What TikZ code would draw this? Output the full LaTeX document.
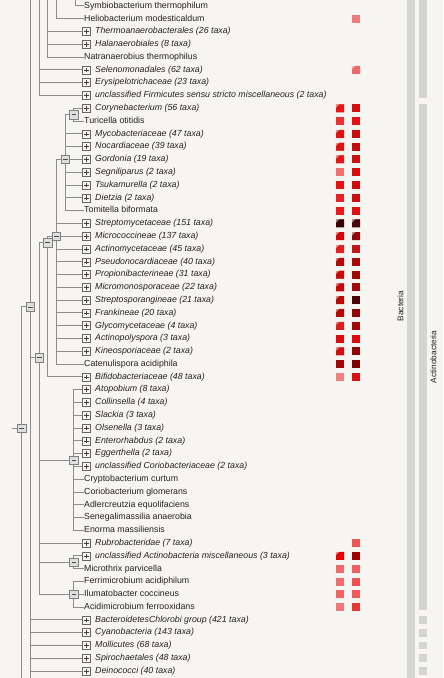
\documentclass[tikz,border=0pt]{standalone}
\usepackage{fontspec}
\setmainfont{Liberation Sans}
\pgfdeclarelayer{back}
\pgfdeclarelayer{bg}
\pgfsetlayers{back,bg,main}
\definecolor{paper}{HTML}{F7F5F1}
\definecolor{linec}{HTML}{8C8C8C}
\definecolor{txt}{HTML}{222222}
\definecolor{barc}{HTML}{D4D4D4}
\definecolor{minusfill}{HTML}{DEDEDE}
\tikzset{
  edge/.style={draw=linec, line width=1pt},
  lbl/.style={anchor=west, inner sep=0pt, text=txt, font=\fontsize{8.8}{10}\selectfont, text height=6.4pt, text depth=1.9pt},
  clade/.style={lbl, font=\fontsize{8.8}{10}\selectfont\itshape},
  plusbox/.style={draw=black!60, fill=paper, line width=0.6pt, minimum size=8pt, inner sep=0pt,
    path picture={\draw[black!75, line width=0.6pt]
      ([xshift=-2.4pt]path picture bounding box.center) -- ([xshift=2.4pt]path picture bounding box.center)
      ([yshift=-2.4pt]path picture bounding box.center) -- ([yshift=2.4pt]path picture bounding box.center);}},
  minusbox/.style={draw=black!50, fill=minusfill, line width=0.6pt, minimum size=8.5pt, inner sep=0pt,
    path picture={\draw[black!70, line width=0.6pt]
      ([xshift=-2.4pt]path picture bounding box.center) -- ([xshift=2.4pt]path picture bounding box.center);}},
  sidelbl/.style={rotate=90, inner sep=0pt, text=txt, font=\fontsize{8.3}{10}\selectfont}
}
\newcommand\leafcl[2]{\node[plusbox] (b#1) at (86.7,#1) {};\node[clade] (t#1) at (95,#1) {#2};}
\newcommand\leafsp[2]{\node[lbl] (b#1) at (84,#1) {#2};}
\newcommand\hmsq[3]{\definecolor{tmpc}{HTML}{#3}\fill[tmpc] (#2-4,#1-0.3127) rectangle (#2+4,#1+0.3127);}
\newcommand\hmcut[3]{\definecolor{tmpc}{HTML}{#3}\fill[tmpc!45!paper] (#2-4,#1-0.3127) rectangle (#2+4,#1+0.3127);
  \fill[tmpc] (#2-0.6,#1-0.3127) -- (#2+4,#1-0.3127) -- (#2+4,#1+0.3127) -- (#2-4,#1+0.3127) -- (#2-4,#1-0.3127+0.27) -- cycle;}
\begin{document}
\begin{tikzpicture}[x=1pt,y=-12.79pt]
\begin{pgfonlayer}{back}
\fill[paper] (0,-0.469) rectangle (443,52.54);
\end{pgfonlayer}
\useasboundingbox (0,-0.469) rectangle (443,52.54);
% side bars
\fill[barc] (407,-0.469) rectangle (415,52.54);
\fill[barc] (419,-0.469) rectangle (427,7.19);
\fill[barc] (419,7.66) rectangle (427,47.22);
\foreach \i in {48,...,52}{\fill[barc] (419,\i-0.31) rectangle (427,\i+0.31);}
\node[sidelbl] (bact) at (400.5,23.46) {Bacteria};
\node[sidelbl] (actino) at (433.3,27.44) {Actinobacteria};
% leaves
\leafsp{0}{Symbiobacterium thermophilum}
\leafsp{1}{Heliobacterium modesticaldum}
\leafcl{2}{Thermoanaerobacterales (26 taxa)}
\leafcl{3}{Halanaerobiales (8 taxa)}
\leafsp{4}{Natranaerobius thermophilus}
\leafcl{5}{Selenomonadales (62 taxa)}
\leafcl{6}{Erysipelotrichaceae (23 taxa)}
\leafcl{7}{unclassified Firmicutes sensu stricto miscellaneous (2 taxa)}
\leafcl{8}{Corynebacterium (56 taxa)}
\leafsp{9}{Turicella otitidis}
\leafcl{10}{Mycobacteriaceae (47 taxa)}
\leafcl{11}{Nocardiaceae (39 taxa)}
\leafcl{12}{Gordonia (19 taxa)}
\leafcl{13}{Segniliparus (2 taxa)}
\leafcl{14}{Tsukamurella (2 taxa)}
\leafcl{15}{Dietzia (2 taxa)}
\leafsp{16}{Tomitella biformata}
\leafcl{17}{Streptomycetaceae (151 taxa)}
\leafcl{18}{Micrococcineae (137 taxa)}
\leafcl{19}{Actinomycetaceae (45 taxa)}
\leafcl{20}{Pseudonocardiaceae (40 taxa)}
\leafcl{21}{Propionibacterineae (31 taxa)}
\leafcl{22}{Micromonosporaceae (22 taxa)}
\leafcl{23}{Streptosporangineae (21 taxa)}
\leafcl{24}{Frankineae (20 taxa)}
\leafcl{25}{Glycomycetaceae (4 taxa)}
\leafcl{26}{Actinopolyspora (3 taxa)}
\leafcl{27}{Kineosporiaceae (2 taxa)}
\leafsp{28}{Catenulispora acidiphila}
\leafcl{29}{Bifidobacteriaceae (48 taxa)}
\leafcl{30}{Atopobium (8 taxa)}
\leafcl{31}{Collinsella (4 taxa)}
\leafcl{32}{Slackia (3 taxa)}
\leafcl{33}{Olsenella (3 taxa)}
\leafcl{34}{Enterorhabdus (2 taxa)}
\leafcl{35}{Eggerthella (2 taxa)}
\leafcl{36}{unclassified Coriobacteriaceae (2 taxa)}
\leafsp{37}{Cryptobacterium curtum}
\leafsp{38}{Coriobacterium glomerans}
\leafsp{39}{Adlercreutzia equolifaciens}
\leafsp{40}{Senegalimassilia anaerobia}
\leafsp{41}{Enorma massiliensis}
\leafcl{42}{Rubrobacteridae (7 taxa)}
\leafcl{43}{unclassified Actinobacteria miscellaneous (3 taxa)}
\leafsp{44}{Microthrix parvicella}
\leafsp{45}{Ferrimicrobium acidiphilum}
\leafsp{46}{Ilumatobacter coccineus}
\leafsp{47}{Acidimicrobium ferrooxidans}
\leafcl{48}{BacteroidetesChlorobi group (421 taxa)}
\leafcl{49}{Cyanobacteria (143 taxa)}
\leafcl{50}{Mollicutes (68 taxa)}
\leafcl{51}{Spirochaetales (48 taxa)}
\leafcl{52}{Deinococci (40 taxa)}
% internal nodes
\node[minusbox] (root) at (21.7,33) {};
\node[minusbox] (n1) at (30.4,23.53) {};
\node[minusbox] (nA) at (39.1,27.5) {};
\node[minusbox] (nB) at (47.8,18.5) {};
\node[minusbox] (nC) at (56.5,18) {};
\node[minusbox] (nD) at (65.2,12) {};
\node[minusbox] (nE) at (73.9,8.5) {};
\node[minusbox] (nCor) at (73.9,35.5) {};
\node[minusbox] (nUA) at (73.9,43.5) {};
\node[minusbox] (nAc) at (73.9,46) {};
% free ends
\coordinate (top6) at (75.5,-0.6);
\coordinate (top4) at (56.5,-0.6);
\coordinate (top3) at (47.8,-0.6);
\coordinate (top2) at (39.1,-0.6);
\coordinate (top1) at (30.4,-0.6);
\coordinate (bot1) at (30.4,52.7);
\coordinate (bot0) at (21.7,52.7);
\coordinate (stub) at (12,33);
\begin{pgfonlayer}{bg}
\draw[edge] (top6) |- (b0.west);
\draw[edge] (top4) |- (b1.west);
\foreach \i in {2,3,4}{\draw[edge] (top3) |- (b\i.west);}
\foreach \i in {5,6,7}{\draw[edge] (top2) |- (b\i.west);}
\draw[edge] (top1) -- (bot1);
\draw[edge] (stub) -- (root.center);
\draw[edge] (root.center) |- (n1.center);
\draw[edge] (root.center) -- (bot0);
\draw[edge] (n1.center) |- (nA.center);
\foreach \i in {48,...,52}{\draw[edge] (n1.center) |- (b\i.west);}
\draw[edge] (nA.center) |- (nB.center);
\draw[edge] (nA.center) |- (nCor.center);
\draw[edge] (nA.center) |- (b42.west);
\draw[edge] (nA.center) |- (nUA.center);
\draw[edge] (nA.center) |- (nAc.center);
\draw[edge] (nB.center) |- (nC.center);
\draw[edge] (nB.center) |- (b29.west);
\draw[edge] (nC.center) |- (nD.center);
\foreach \i in {17,...,28}{\draw[edge] (nC.center) |- (b\i.west);}
\draw[edge] (nD.center) |- (nE.center);
\foreach \i in {10,...,16}{\draw[edge] (nD.center) |- (b\i.west);}
\foreach \i in {8,9}{\draw[edge] (nE.center) |- (b\i.west);}
\foreach \i in {30,...,41}{\draw[edge] (nCor.center) |- (b\i.west);}
\foreach \i in {43,44}{\draw[edge] (nUA.center) |- (b\i.west);}
\foreach \i in {45,46,47}{\draw[edge] (nAc.center) |- (b\i.west);}
\end{pgfonlayer}
% heatmap
\hmsq{1}{356}{F07A7A}
\hmcut{5}{356}{EE6A6A}
\hmcut{8}{340}{E81515}\hmsq{8}{356}{D40F0F}
\hmsq{9}{340}{EE3030}\hmsq{9}{356}{E81010}
\hmcut{10}{340}{E01212}\hmsq{10}{356}{C60C0C}
\hmcut{11}{340}{E01212}\hmsq{11}{356}{C40C0C}
\hmcut{12}{340}{E21818}\hmsq{12}{356}{CA1010}
\hmsq{13}{340}{F07070}\hmsq{13}{356}{D80A0A}
\hmsq{14}{340}{E81010}\hmsq{14}{356}{D20A0A}
\hmsq{15}{340}{E82222}\hmsq{15}{356}{CA1010}
\hmsq{16}{340}{F01818}\hmsq{16}{356}{E21010}
\hmcut{17}{340}{3A0000}\hmcut{17}{356}{4A0505}
\hmcut{18}{340}{D20808}\hmcut{18}{356}{8E0A0A}
\hmcut{19}{340}{E22222}\hmsq{19}{356}{C21515}
\hmcut{20}{340}{B40808}\hmsq{20}{356}{A50A0A}
\hmcut{21}{340}{C80A0A}\hmsq{21}{356}{A00808}
\hmcut{22}{340}{C60A0A}\hmsq{22}{356}{A00A0A}
\hmcut{23}{340}{B80808}\hmsq{23}{356}{4C0505}
\hmcut{24}{340}{B80808}\hmsq{24}{356}{8E0808}
\hmcut{25}{340}{D82020}\hmsq{25}{356}{A20A0A}
\hmsq{26}{340}{E00A0A}\hmsq{26}{356}{E00A0A}
\hmcut{27}{340}{CE1010}\hmsq{27}{356}{8E0808}
\hmsq{28}{340}{A00808}\hmsq{28}{356}{780505}
\hmsq{29}{340}{F08080}\hmsq{29}{356}{D81010}
\hmsq{42}{356}{F05555}
\hmcut{43}{340}{E80000}\hmsq{43}{356}{9E0000}
\hmsq{44}{340}{F06A6A}\hmsq{44}{356}{F06060}
\hmsq{45}{340}{F07070}\hmsq{45}{356}{EE5252}
\hmsq{46}{340}{F06464}\hmsq{46}{356}{F05A5A}
\hmsq{47}{340}{F07878}\hmsq{47}{356}{E83636}
\end{tikzpicture}
\end{document}
